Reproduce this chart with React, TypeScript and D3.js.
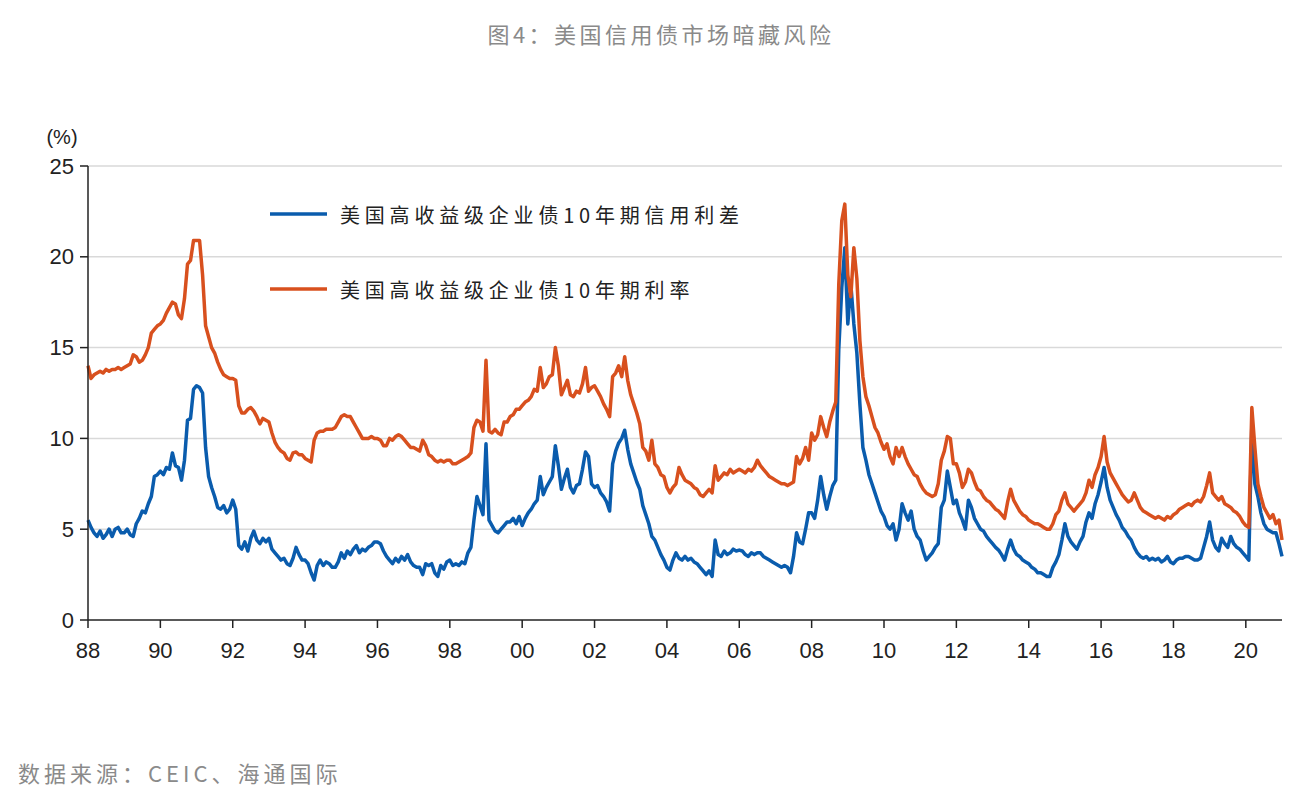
import React from 'react';
import * as d3 from 'd3';

// monthly readings, Jan 1988 .. Jan 2021
const START_YEAR = 1988;

const spread = [
  5.5, 5.1, 4.8, 4.6, 4.9, 4.5, 4.7, 5.0, 4.6, 5.0, 5.1, 4.8,
  4.8, 5.0, 4.7, 4.6, 5.3, 5.6, 6.0, 5.9, 6.4, 6.8, 7.9, 8.0,
  8.2, 8.0, 8.4, 8.3, 9.2, 8.5, 8.4, 7.7, 8.8, 11.0, 11.1, 12.7,
  12.9, 12.8, 12.5, 9.5, 7.9, 7.3, 6.8, 6.2, 6.1, 6.3, 5.9, 6.1,
  6.6, 6.1, 4.1, 3.9, 4.3, 3.8, 4.5, 4.9, 4.4, 4.2, 4.5, 4.3,
  4.5, 3.9, 3.7, 3.5, 3.3, 3.4, 3.1, 3.0, 3.4, 4.0, 3.6, 3.3,
  3.3, 3.1, 2.6, 2.2, 3.0, 3.3, 3.0, 3.2, 3.1, 2.9, 2.9, 3.2,
  3.7, 3.4, 3.8, 3.6, 3.9, 4.1, 3.7, 3.9, 3.8, 4.0, 4.1, 4.3,
  4.3, 4.2, 3.8, 3.5, 3.3, 3.1, 3.4, 3.2, 3.5, 3.3, 3.6, 3.2,
  3.0, 2.9, 2.9, 2.5, 3.1, 3.0, 3.1, 2.6, 2.4, 3.0, 2.8, 3.2,
  3.3, 3.0, 3.1, 3.0, 3.2, 3.1, 3.7, 4.0, 5.5, 6.8, 6.3, 5.8,
  9.7, 5.5, 5.2, 4.9, 4.8, 5.0, 5.2, 5.4, 5.4, 5.6, 5.3, 5.7,
  5.2, 5.6, 5.9, 6.1, 6.4, 6.6, 7.9, 6.9, 7.3, 7.6, 7.9, 9.6,
  8.5, 7.2, 7.8, 8.3, 7.3, 7.0, 7.4, 7.5, 8.3, 9.25, 9.0, 7.5,
  7.3, 7.4, 7.0, 6.8, 6.5, 6.0, 8.6, 9.3, 9.75, 10.0, 10.45, 9.4,
  8.6, 8.1, 7.6, 7.2, 6.3, 5.8, 5.3, 4.6, 4.4, 4.0, 3.6, 3.3,
  2.9, 2.75, 3.3, 3.7, 3.4, 3.3, 3.5, 3.3, 3.4, 3.2, 3.1, 2.9,
  2.7, 2.5, 2.7, 2.4, 4.4, 3.6, 3.5, 3.8, 3.6, 3.7, 3.9, 3.8,
  3.85, 3.8, 3.6, 3.5, 3.7, 3.6, 3.7, 3.7, 3.5, 3.4, 3.3, 3.2,
  3.1, 3.0, 2.9, 3.0, 2.9, 2.6, 3.5, 4.8, 4.3, 4.2, 5.0, 5.9,
  5.9, 5.6, 6.6, 7.9, 6.9, 6.1, 6.8, 7.4, 7.7, 14.9, 18.3, 20.5,
  16.3, 18.5, 16.3, 14.7, 11.9, 9.5, 8.8, 8.0, 7.5, 7.0, 6.5, 6.0,
  5.7, 5.2, 5.0, 5.3, 4.4, 5.0, 6.4, 5.9, 5.5, 6.0, 5.0, 4.6,
  4.4, 3.8, 3.3, 3.5, 3.7, 4.0, 4.2, 6.2, 6.6, 8.2, 7.3, 6.4,
  6.6, 5.9, 5.5, 5.0, 6.6, 6.2, 5.6, 5.3, 5.0, 4.9, 4.6, 4.4,
  4.2, 4.0, 3.85, 3.6, 3.3, 3.9, 4.4, 3.9, 3.6, 3.5, 3.3, 3.2,
  3.1, 2.9, 2.8, 2.6, 2.6, 2.5, 2.4, 2.4, 2.9, 3.2, 3.6, 4.4,
  5.3, 4.6, 4.3, 4.1, 3.9, 4.3, 4.6, 5.4, 5.9, 5.6, 6.4, 6.9,
  7.6, 8.4, 7.3, 6.6, 6.2, 5.8, 5.5, 5.1, 4.9, 4.6, 4.4, 4.0,
  3.7, 3.5, 3.4, 3.5, 3.3, 3.4, 3.3, 3.4, 3.2, 3.3, 3.5, 3.2,
  3.1, 3.3, 3.4, 3.4, 3.5, 3.5, 3.4, 3.3, 3.3, 3.4, 4.0, 4.6,
  5.4, 4.4, 4.0, 3.8, 4.5, 4.2, 4.0, 4.6, 4.2, 4.0, 3.9, 3.7,
  3.5, 3.3, 10.8, 7.5, 6.8, 5.9, 5.3, 5.0, 4.9, 4.8, 4.8, 4.2,
  3.5,
];

const yieldRate = [
  14.0, 13.3, 13.5, 13.6, 13.7, 13.6, 13.8, 13.7, 13.8, 13.8, 13.9, 13.8,
  13.9, 14.0, 14.1, 14.6, 14.5, 14.2, 14.3, 14.6, 15.0, 15.8, 16.0, 16.2,
  16.3, 16.5, 16.9, 17.2, 17.5, 17.4, 16.8, 16.6, 17.7, 19.6, 19.8, 20.9,
  20.9, 20.9, 19.0, 16.2, 15.6, 15.0, 14.7, 14.2, 13.8, 13.5, 13.4, 13.3,
  13.3, 13.2, 11.8, 11.4, 11.4, 11.6, 11.7, 11.5, 11.2, 10.8, 11.1, 11.0,
  10.9, 10.3, 9.8, 9.5, 9.3, 9.2, 8.9, 8.8, 9.2, 9.25, 9.1, 9.1,
  8.9, 8.8, 8.7, 9.9, 10.3, 10.4, 10.4, 10.5, 10.5, 10.5, 10.6, 10.9,
  11.2, 11.3, 11.2, 11.2, 10.9, 10.6, 10.3, 10.0, 10.0, 10.0, 10.1, 10.0,
  10.0, 9.9, 9.6, 9.6, 10.0, 9.9, 10.1, 10.2, 10.1, 9.9, 9.7, 9.5,
  9.5, 9.4, 9.3, 9.9, 9.6, 9.1, 9.0, 8.8, 8.7, 8.8, 8.7, 8.8,
  8.8, 8.6, 8.6, 8.7, 8.8, 8.9, 9.0, 9.2, 10.6, 11.0, 10.9, 10.4,
  14.3, 10.4, 10.3, 10.5, 10.3, 10.2, 10.9, 10.9, 11.2, 11.3, 11.6, 11.6,
  11.8, 12.0, 12.1, 12.3, 12.7, 12.6, 13.9, 12.8, 13.0, 13.4, 13.5, 15.0,
  14.0, 12.4, 12.8, 13.2, 12.4, 12.3, 12.6, 12.5, 13.0, 13.9, 12.6, 12.8,
  12.9, 12.6, 12.3, 11.9, 11.6, 11.2, 13.4, 13.6, 14.0, 13.4, 14.5, 13.2,
  12.4, 11.9, 11.4, 10.8, 9.5, 9.3, 8.8, 9.9, 8.6, 8.4, 8.0, 7.9,
  7.3, 7.0, 7.3, 7.5, 8.4, 8.0, 7.7, 7.6, 7.5, 7.3, 7.2, 6.9,
  6.8, 7.0, 7.2, 7.0, 8.5, 7.7, 7.9, 8.1, 8.0, 8.3, 8.1, 8.2,
  8.3, 8.2, 8.1, 8.3, 8.2, 8.4, 8.8, 8.5, 8.3, 8.1, 7.9, 7.8,
  7.7, 7.6, 7.5, 7.5, 7.4, 7.5, 7.6, 9.0, 8.6, 8.9, 9.5, 8.8,
  10.3, 9.9, 10.2, 11.2, 10.6, 10.1, 10.9, 11.5, 12.0, 18.5, 22.0, 22.9,
  19.0, 17.8, 20.5, 18.8, 15.4, 13.4, 12.3, 11.8, 11.2, 10.6, 10.3, 9.8,
  9.4, 9.7, 9.0, 8.6, 9.5, 9.0, 9.5, 9.0, 8.6, 8.3, 8.0, 7.9,
  7.5, 7.2, 7.0, 6.9, 6.8, 6.9, 7.5, 8.8, 9.3, 10.1, 10.0, 8.6,
  8.6, 8.1, 7.3, 7.6, 8.3, 8.1, 7.6, 7.2, 7.1, 6.8, 6.6, 6.5,
  6.3, 6.1, 6.0, 5.8, 5.6, 6.5, 7.2, 6.6, 6.3, 6.0, 5.8, 5.7,
  5.5, 5.4, 5.3, 5.3, 5.2, 5.1, 5.0, 5.0, 5.3, 5.8, 6.0, 6.6,
  7.0, 6.4, 6.2, 6.0, 6.2, 6.4, 6.6, 7.0, 7.7, 7.3, 8.0, 8.4,
  9.0, 10.1, 8.7, 8.1, 7.8, 7.5, 7.2, 6.9, 6.7, 6.5, 6.6, 7.0,
  6.6, 6.2, 6.0, 5.9, 5.8, 5.7, 5.6, 5.7, 5.6, 5.5, 5.7, 5.6,
  5.8, 5.9, 6.1, 6.2, 6.3, 6.4, 6.3, 6.5, 6.6, 6.5, 6.8, 7.4,
  8.1, 7.0, 6.8, 6.6, 6.8, 6.4, 6.3, 6.2, 6.0, 5.9, 5.7, 5.4,
  5.2, 5.1, 11.7, 9.5, 7.5, 6.8, 6.2, 5.9, 5.6, 5.8, 5.3, 5.5,
  4.4,
];

const yTicks = [0, 5, 10, 15, 20, 25];
const xTicks = [1988, 1990, 1992, 1994, 1996, 1998, 2000, 2002, 2004, 2006, 2008, 2010, 2012, 2014, 2016, 2018, 2020];
const seriesNames = ['美国高收益级企业债10年期信用利差', '美国高收益级企业债10年期利率'];
const seriesColors = ['#0a5cad', '#d8501e'];

const W = 1312;
const H = 804;
const margin = { top: 166, right: 30, bottom: 184, left: 88 };

const App = () => {
  const x = d3.scaleLinear()
    .domain([START_YEAR, START_YEAR + 33])
    .range([margin.left, W - margin.right]);
  const y = d3.scaleLinear()
    .domain([0, 25])
    .range([H - margin.bottom, margin.top]);

  const line = d3.line<number>()
    .x((_, i) => x(START_YEAR + i / 12))
    .y(d => y(d));

  const numFont = '"Liberation Sans", Arial, sans-serif';
  const cjkFont = '"Noto Sans CJK SC", sans-serif';

  return (
    <div style={{ position: 'fixed', left: 0, top: 0, width: W, height: H, background: '#fff' }}>
      <svg width={W} height={H} viewBox={`0 0 ${W} ${H}`}>
        <text x={661} y={33} textAnchor="middle" dominantBaseline="central"
          fontFamily={cjkFont} fontSize={22} letterSpacing={3.5} fill="#8a8a8a">
          图4：美国信用债市场暗藏风险
        </text>

        {/* grid */}
        {yTicks.filter(t => t > 0).map(t => (
          <line key={t} x1={x.range()[0]} x2={x.range()[1]} y1={y(t)} y2={y(t)}
            stroke="#d9d9d9" strokeWidth={1.5} />
        ))}

        <path d={line(spread) || ''} fill="none" stroke={seriesColors[0]} strokeWidth={3.5}
          strokeLinejoin="round" />
        <path d={line(yieldRate) || ''} fill="none" stroke={seriesColors[1]} strokeWidth={3.5}
          strokeLinejoin="round" />

        {/* y axis */}
        <line x1={margin.left} x2={margin.left} y1={y(25)} y2={y(0)} stroke="#222" strokeWidth={1.5} />
        {yTicks.map(t => (
          <g key={t} transform={`translate(0,${y(t)})`}>
            <line x1={margin.left - 8} x2={margin.left} stroke="#222" strokeWidth={1.5} />
            <text x={margin.left - 14} textAnchor="end" dominantBaseline="central"
              fontFamily={numFont} fontSize={22} fill="#222">{t}</text>
          </g>
        ))}
        <text x={62} y={137} textAnchor="middle" dominantBaseline="central"
          fontFamily={numFont} fontSize={20} fill="#222">(%)</text>

        {/* x axis */}
        <line x1={x.range()[0]} x2={x.range()[1]} y1={y(0)} y2={y(0)} stroke="#222" strokeWidth={1.5} />
        {xTicks.map(t => (
          <g key={t} transform={`translate(${x(t)},${y(0)})`}>
            <line y1={0} y2={8} stroke="#222" strokeWidth={1.5} />
            <text y={30} textAnchor="middle" dominantBaseline="central"
              fontFamily={numFont} fontSize={22} fill="#222">{d3.format('02d')(t % 100)}</text>
          </g>
        ))}

        {/* legend */}
        {seriesNames.map((name, i) => (
          <g key={name} transform={`translate(270,${214 + i * 75})`}>
            <line x1={0} x2={57} stroke={seriesColors[i]} strokeWidth={3.5} />
            <text x={70} dominantBaseline="central" fontFamily={cjkFont} fontSize={20}
              letterSpacing={4.8} fill="#222">{name}</text>
          </g>
        ))}

        <text x={18} y={772} dominantBaseline="central" fontFamily={cjkFont} fontSize={22}
          letterSpacing={4} fill="#8a8a8a">数据来源：CEIC、海通国际</text>
      </svg>
    </div>
  );
};

export default App;
